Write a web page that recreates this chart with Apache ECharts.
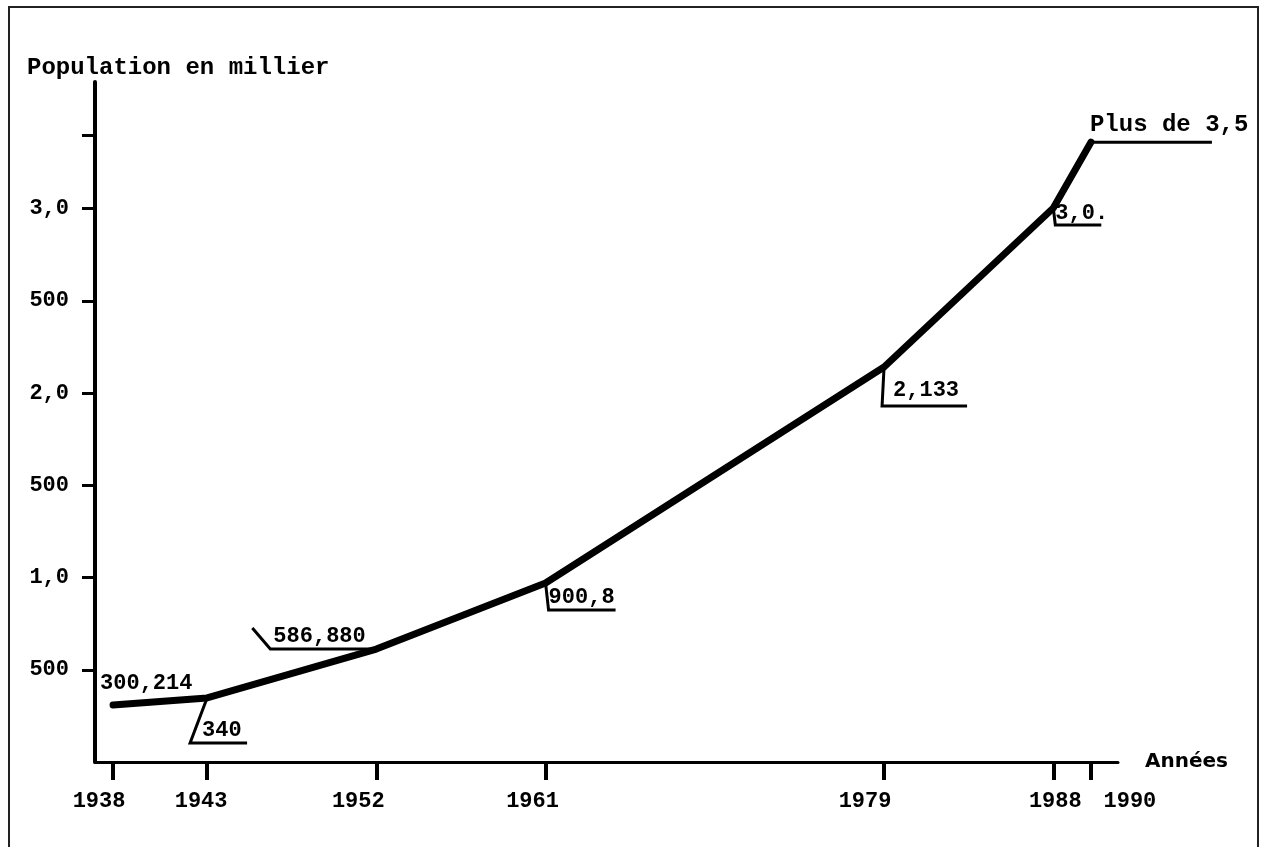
<!DOCTYPE html>
<html>
<head>
<meta charset="utf-8">
<script src="https://cdn.jsdelivr.net/npm/echarts@6/dist/echarts.min.js"></script>
<style>
html,body{margin:0;padding:0;background:#fff;}
#c{width:1261px;height:847px;}
</style>
</head>
<body>
<div id="c"></div>
<script>
// ---- data ----
const years = [1938, 1943, 1952, 1961, 1979, 1988, 1990];
const population = [309, 347, 612, 970, 2141, 3003, 3360];
const pointLabels = ['300,214', '340', '586,880', '900,8', '2,133', '3,0.', 'Plus de 3,5'];
const yTickValues = [500, 1000, 1500, 2000, 2500, 3000, 3400];
const yLabelValues = [500, 1000, 1500, 2000, 2500, 3000];
const yTickLabels = ['500', '1,0', '500', '2,0', '500', '3,0'];
const yAxisTitle = 'Population en millier';
const xAxisTitle = 'Années';

// ---- layout (pixel offsets, not data) ----
const xLabelShift = [-14, -6, -18, -13, -19, 2, 39];
const calloutLayout = [
  { line: [], tx: -13, ty: -22, size: 22 },
  { line: [[0, 0], [-17, 45], [40, 45]], tx: -5, ty: 32, size: 22 },
  { line: [[0, 0], [-106, 0], [-124, -21]], tx: -103, ty: -13, size: 22 },
  { line: [[0, 0], [3, 27], [70, 27]], tx: 3, ty: 14, size: 22 },
  { line: [[0, 0], [-2, 39], [83, 39]], tx: 9, ty: 23, size: 22 },
  { line: [[0, 0], [2, 17], [48, 17]], tx: 2, ty: 5, size: 22 },
  { line: [[0, 0], [121, 0]], tx: -1, ty: -17, size: 24 }
];

const monoFont = '"Liberation Mono", "DejaVu Sans Mono", monospace';
const points = years.map((y, i) => [y, population[i]]);

const xRich = {};
xLabelShift.forEach((s, i) => {
  xRich['y' + i] = {
    fontFamily: monoFont, fontWeight: 'bold', fontSize: 22, color: '#000',
    padding: s >= 0 ? [0, 0, 0, 2 * s] : [0, -2 * s, 0, 0]
  };
});

const chart = echarts.init(document.getElementById('c'), null, { renderer: 'canvas' });
chart.setOption({
  animation: false,
  backgroundColor: '#fff',
  title: {
    text: yAxisTitle,
    left: 22,
    top: 51,
    textStyle: { fontFamily: monoFont, fontWeight: 'bold', fontSize: 24, color: '#000' }
  },
  graphic: [{
    type: 'rect',
    silent: true,
    shape: { x: 9, y: 7, width: 1249, height: 880 },
    style: { stroke: '#222', lineWidth: 2, fill: 'none' }
  }],
  grid: { left: 95, right: 143, top: 82, bottom: 85 },
  xAxis: {
    type: 'value',
    min: 1937.04,
    max: 1991.44,
    name: xAxisTitle,
    nameLocation: 'end',
    nameGap: 27,
    nameTextStyle: { fontFamily: '"DejaVu Sans", sans-serif', fontWeight: 'bold', fontSize: 20, color: '#000', verticalAlign: 'middle' },
    axisLine: { show: true, lineStyle: { color: '#000', width: 3 } },
    axisTick: { show: true, customValues: years, length: 18, lineStyle: { color: '#000', width: 4 } },
    axisLabel: {
      customValues: years,
      hideOverlap: false,
      formatter: v => { const k = years.indexOf(v); return k >= 0 ? '{y' + k + '|' + v + '}' : String(v); },
      rich: xRich,
      margin: 28,
      fontFamily: monoFont, fontWeight: 'bold', fontSize: 22, color: '#000'
    },
    splitLine: { show: false }
  },
  yAxis: {
    type: 'value',
    min: 0,
    max: 3686,
    axisLine: { show: true, lineStyle: { color: '#000', width: 4 } },
    axisTick: { show: true, customValues: yTickValues, length: 13, lineStyle: { color: '#000', width: 3 } },
    axisLabel: {
      customValues: yLabelValues,
      formatter: v => { const k = yLabelValues.indexOf(v); return k >= 0 ? yTickLabels[k] : ''; },
      margin: 26,
      fontFamily: monoFont, fontWeight: 'bold', fontSize: 22, color: '#000'
    },
    splitLine: { show: false }
  },
  series: [
    {
      type: 'custom',
      name: 'callouts',
      silent: true,
      z: 2,
      data: points,
      renderItem: function (params, api) {
        const i = params.dataIndex;
        const p = api.coord([api.value(0), api.value(1)]);
        const L = calloutLayout[i];
        const children = [];
        if (L.line.length) {
          children.push({
            type: 'polyline',
            shape: { points: L.line.map(o => [p[0] + o[0], p[1] + o[1]]) },
            style: { stroke: '#000', lineWidth: 3, fill: null }
          });
        }
        children.push({
          type: 'text',
          x: p[0] + L.tx,
          y: p[1] + L.ty,
          style: {
            text: pointLabels[i],
            fontFamily: monoFont,
            fontWeight: 'bold',
            fontSize: L.size,
            fill: '#000',
            align: 'left',
            verticalAlign: 'middle'
          }
        });
        return { type: 'group', children: children };
      }
    },
    {
      type: 'line',
      name: 'Population',
      silent: true,
      z: 3,
      data: points,
      symbol: 'none',
      lineStyle: { color: '#000', width: 7, cap: 'round', join: 'round' }
    }
  ]
});
</script>
</body>
</html>
